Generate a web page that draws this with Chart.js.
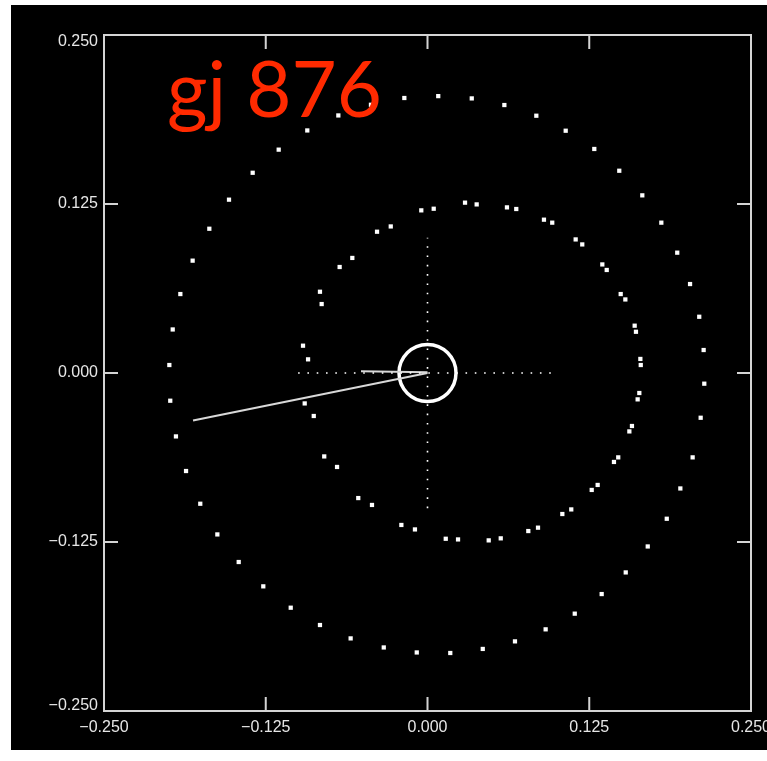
<!DOCTYPE html>
<html><head><meta charset="utf-8">
<style>html,body{margin:0;padding:0;background:#fff;overflow:hidden}#wrap{position:relative;width:767px;height:761px}</style>
<script src="https://cdn.jsdelivr.net/npm/chart.js@4/dist/chart.umd.min.js"></script>
</head><body><div id="wrap"><canvas id="c" width="767" height="761"></canvas></div>
<script>
const titleText = 'gj 876';
const tickValues = [-0.25, -0.125, 0, 0.125, 0.25];
const xTickLabels = ['\u22120.250', '\u22120.125', '0.000', '0.125', '0.250'];
const yTickLabels = ['\u22120.250', '\u22120.125', '0.000', '0.125', '0.250'];

// outer ring of positions
const outerX = [0.0083,0.0342,0.0594,0.0841,0.1068,0.1289,0.1482,0.1660,0.1807,0.1930,
  0.2029,0.2100,0.2134,0.2139,0.2111,0.2049,0.1954,0.1849,0.1702,0.1532,
  0.1346,0.1138,0.0913,0.0676,0.0427,0.0176,-0.0083,-0.0338,-0.0594,-0.0831,
  -0.1057,-0.1269,-0.1459,-0.1624,-0.1756,-0.1866,-0.1944,-0.1988,-0.1995,-0.1969,
  -0.1910,-0.1815,-0.1686,-0.1534,-0.1351,-0.1150,-0.0929,-0.0689,-0.0437,-0.0179];
const outerY = [0.2048,0.2031,0.1982,0.1903,0.1792,0.1657,0.1496,0.1314,0.1112,0.0890,
  0.0658,0.0416,0.0170,-0.0079,-0.0331,-0.0624,-0.0854,-0.1078,-0.1283,-0.1475,
  -0.1635,-0.1780,-0.1896,-0.1985,-0.2041,-0.2071,-0.2067,-0.2030,-0.1963,-0.1864,
  -0.1736,-0.1578,-0.1398,-0.1194,-0.0967,-0.0725,-0.0469,-0.0205,0.0059,0.0322,
  0.0584,0.0831,0.1067,0.1282,0.1481,0.1652,0.1794,0.1905,0.1984,0.2034];

// inner ring of positions
const innerX = [0.0048,0.0290,0.0380,0.0614,0.0686,0.0900,0.0964,0.1145,0.1196,0.1351,
  0.1385,0.1493,0.1529,0.1601,0.1611,0.1645,0.1648,0.1637,0.1624,0.1580,
  0.1560,0.1474,0.1441,0.1315,0.1269,0.1111,0.1042,0.0854,0.0779,0.0566,
  0.0473,0.0236,0.0141,-0.0097,-0.0202,-0.0429,-0.0535,-0.0699,-0.0798,-0.0879,
  -0.0949,-0.0923,-0.0962,-0.0818,-0.0831,-0.0679,-0.0581,-0.0390,-0.0284,-0.0048];
const innerY = [0.1215,0.1260,0.1247,0.1225,0.1213,0.1134,0.1112,0.0988,0.0951,0.0803,
  0.0762,0.0584,0.0544,0.0350,0.0305,0.0104,0.0059,-0.0148,-0.0195,-0.0392,
  -0.0432,-0.0624,-0.0658,-0.0828,-0.0865,-0.1009,-0.1043,-0.1144,-0.1169,-0.1223,
  -0.1238,-0.1231,-0.1226,-0.1157,-0.1124,-0.0976,-0.0925,-0.0695,-0.0617,-0.0318,
  -0.0225,0.0101,0.0202,0.0510,0.0601,0.0784,0.0851,0.1045,0.1084,0.1203];

// crosshair, star and vectors
const crossHX = [-0.1, 0.1], crossHY = [0, 0];
const crossVX = [0, 0], crossVY = [-0.1, 0.1];
const starX = [0], starY = [0];
const longVecX = [0, -0.1812], longVecY = [0, -0.0351];
const shortVecX = [0, -0.0514], shortVecY = [0.0005, 0.0013];

const pts = (xs, ys) => xs.map((x, i) => ({x, y: ys[i]}));

const bgPlugin = {
  id: 'bg',
  beforeDraw(chart) {
    const ctx = chart.ctx;
    ctx.save();
    ctx.fillStyle = '#ffffff';
    ctx.fillRect(0, 0, chart.width, chart.height);
    ctx.fillStyle = '#000000';
    ctx.fillRect(11, 5, chart.width - 11, 745);
    ctx.restore();
  }
};

const framePlugin = {
  id: 'frame',
  afterDraw(chart) {
    const ctx = chart.ctx, a = chart.chartArea;
    const xs = chart.scales.x, ys = chart.scales.y;
    ctx.save();
    ctx.strokeStyle = '#d4d4d4';
    ctx.lineWidth = 2;
    ctx.strokeRect(a.left, a.top, a.right - a.left, a.bottom - a.top);
    const tl = 14;
    ctx.beginPath();
    tickValues.forEach(v => {
      const px = xs.getPixelForValue(v), py = ys.getPixelForValue(v);
      ctx.moveTo(px, a.bottom); ctx.lineTo(px, a.bottom - tl);
      ctx.moveTo(px, a.top); ctx.lineTo(px, a.top + tl);
      ctx.moveTo(a.left, py); ctx.lineTo(a.left + tl, py);
      ctx.moveTo(a.right, py); ctx.lineTo(a.right - tl, py);
    });
    ctx.stroke();
    ctx.fillStyle = '#e6e6e6';
    ctx.font = '16px "Liberation Sans", Arial, sans-serif';
    ctx.textBaseline = 'middle';
    ctx.textAlign = 'center';
    tickValues.forEach((v, i) => {
      ctx.fillText(xTickLabels[i], xs.getPixelForValue(v), a.bottom + 17);
    });
    ctx.textAlign = 'right';
    tickValues.forEach((v, i) => {
      let py = ys.getPixelForValue(v);
      if (i === tickValues.length - 1) py += 7;
      if (i === 0) py -= 5;
      ctx.fillText(yTickLabels[i], a.left - 6, py);
    });
    // title
    ctx.fillStyle = '#ff2a00';
    ctx.font = '78px Lato, "Open Sans", sans-serif';
    ctx.textAlign = 'left';
    ctx.textBaseline = 'alphabetic';
    ctx.fillText(titleText, 167, 117);
    ctx.restore();
  }
};

new Chart(document.getElementById('c'), {
  type: 'scatter',
  data: {
    datasets: [
      {data: pts(crossHX, crossHY), showLine: true, borderColor: '#ffffff', borderWidth: 1.6, borderDash: [1.6, 7.7], pointRadius: 0},
      {data: pts(crossVX, crossVY), showLine: true, borderColor: '#ffffff', borderWidth: 1.6, borderDash: [1.6, 7.7], pointRadius: 0},
      {data: pts(longVecX, longVecY), showLine: true, borderColor: '#d8d8d8', borderWidth: 2, pointRadius: 0},
      {data: pts(shortVecX, shortVecY), showLine: true, borderColor: '#d8d8d8', borderWidth: 2, pointRadius: 0},
      {data: pts(starX, starY), pointStyle: 'circle', pointRadius: 28.5, borderColor: '#ffffff', borderWidth: 3.5, backgroundColor: 'rgba(0,0,0,0)'},
      {data: pts(outerX, outerY), pointStyle: 'rect', pointRadius: 3, borderWidth: 0, backgroundColor: '#ffffff'},
      {data: pts(innerX, innerY), pointStyle: 'rect', pointRadius: 3, borderWidth: 0, backgroundColor: '#ffffff'}
    ]
  },
  options: {
    responsive: false,
    animation: false,
    devicePixelRatio: 1,
    layout: {autoPadding: false, padding: {left: 104, right: 16, top: 35, bottom: 50}},
    scales: {
      x: {type: 'linear', min: -0.25, max: 0.25, display: false, ticks: {display: false}, grid: {display: false}},
      y: {type: 'linear', min: -0.25, max: 0.25, display: false, ticks: {display: false}, grid: {display: false}}
    },
    plugins: {legend: {display: false}, tooltip: {enabled: false}, title: {display: false}},
    events: []
  },
  plugins: [bgPlugin, framePlugin]
});
</script></body></html>
